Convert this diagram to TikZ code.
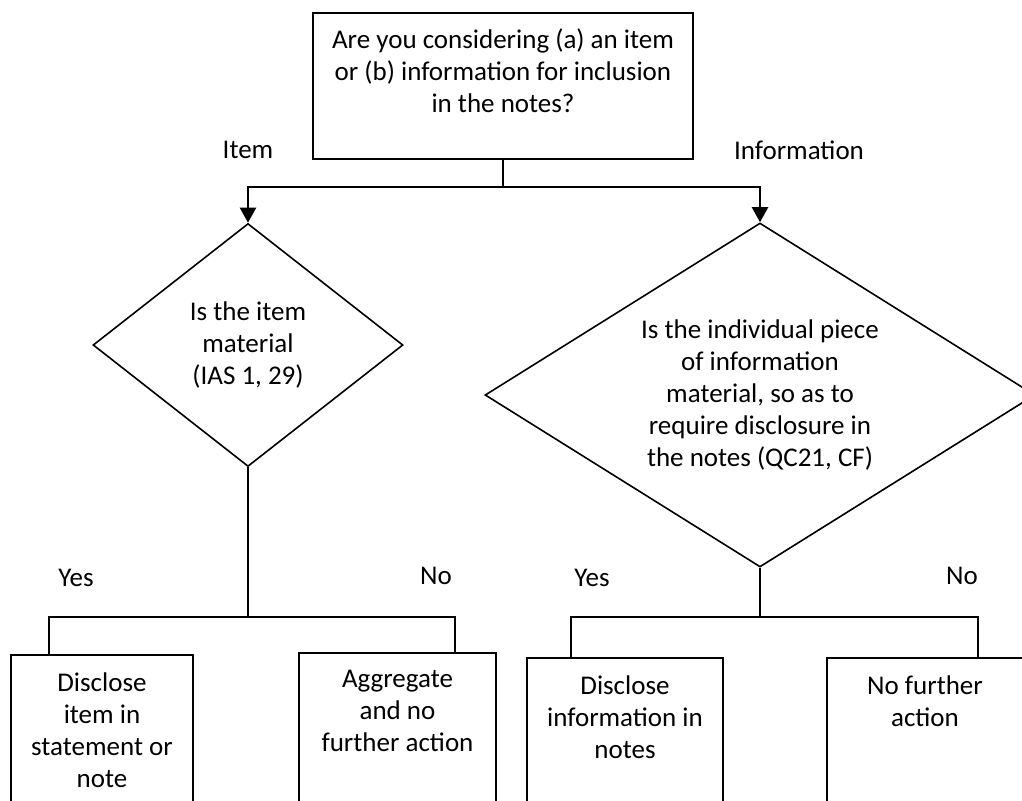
\documentclass[tikz,border=0pt]{standalone}
\usepackage{fontspec}
\setmainfont{Carlito}
\usetikzlibrary{arrows.meta,positioning,shapes.geometric}

\begin{document}
\begin{tikzpicture}[x=0.5pt,y=-0.5pt,font=\fontsize{13.5}{16}\selectfont]
	        \tikzstyle{question}=[draw,thick,rectangle,minimum width=190pt,minimum height=73pt]
	    	\tikzstyle{decision}=[draw,thick,diamond,inner sep=0pt,align=center]
	    	\tikzstyle{outcome}=[draw,thick,rectangle,anchor=north,minimum height=110pt]
	    	\tikzstyle{caption}=[inner sep=0pt,align=center]
    		\tikzstyle{link}=[line width=1.1pt]
    		\tikzstyle{branch}=[line width=1pt]
	    	\tikzstyle{trigger}=[line width=1.1pt,arrows={-Triangle[width=8pt,length=7.5pt]}]

	    	\useasboundingbox (0,0) rectangle (1022,800);
	    	\clip (0,0) rectangle (1022,800);

	    	% top question
	    	\node[question] (q0) at (503,86) {};
	    	\node[caption,below=8pt of q0.north] (q0text) {Are you considering (a) an item\\or (b) information for inclusion\\in the notes?};
	    	\node[caption] (itemlbl) at (248,150) {Item};
	    	\node[caption] (infolbl) at (799,150) {Information};

	    	% the two questions
	    	\node[decision,minimum width=155pt,minimum height=121.5pt,aspect=1.27] (d1) at (248,345) {Is the item\\material\\(IAS 1, 29)};
	    	\node[decision,minimum width=275pt,minimum height=172pt,aspect=1.6] (d2) at (760,395) {Is the individual piece\\of information\\material, so as to\\require disclosure in\\the notes (QC21, CF)};

	    	\coordinate (split) at (503,187);
	    	\draw[link] (q0.south) -- (split);
	    	\draw[trigger] (split) -| (d1.north);
	    	\draw[trigger] (split) -| (d2.north);

	    	% outcomes
	    	\node[outcome,minimum width=91pt] (a1) at (102,654) {};
	    	\node[outcome,minimum width=98.5pt] (a2) at (397.5,652) {};
	    	\node[outcome,minimum width=98pt] (a3) at (625,657) {};
	    	\node[outcome,minimum width=98pt] (a4) at (925,657) {};
	    	\node[caption,below=9pt of a1.north] (a1text) {Disclose\\item in\\statement or\\note};
	    	\node[caption,below=9pt of a2.north] (a2text) {Aggregate\\and no\\further action};
	    	\node[caption,below=9pt of a3.north] (a3text) {Disclose\\information in\\notes};
	    	\node[caption,below=9pt of a4.north] (a4text) {No further\\action};

	    	\node[caption] (yes1) at (76,578) {Yes};
	    	\node[caption] (no1) at (436,576) {No};
	    	\node[caption] (yes2) at (592,578) {Yes};
	    	\node[caption] (no2) at (962,576) {No};

	    	\coordinate (j1) at (248,617);
	    	\coordinate (j2) at (760,617);
	    	\draw[branch] (d1.south) -- (j1);
	    	\draw[branch] ([shift={(-53,0)}]a1.north) |- (j1) -| ([shift={(57.5,0)}]a2.north);
	    	\draw[branch] (d2.south) -- (j2);
	    	\draw[branch] ([shift={(-54,0)}]a3.north) |- (j2) -| ([shift={(53,0)}]a4.north);
	    	
	    \end{tikzpicture}
\end{document}
